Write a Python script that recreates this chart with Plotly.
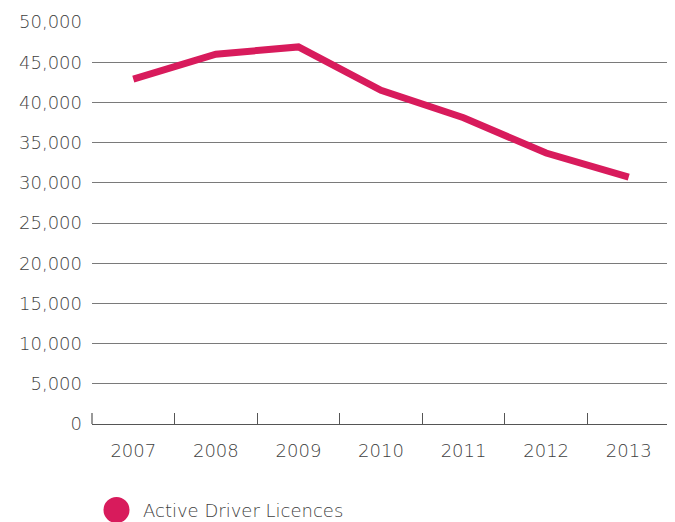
import plotly.graph_objects as go

years = ["2007", "2008", "2009", "2010", "2011", "2012", "2013"]
licences = [42900, 46000, 46900, 41500, 38100, 33700, 30700]
y_ticks = [0, 5000, 10000, 15000, 20000, 25000, 30000, 35000, 40000, 45000, 50000]
y_labels = ["0", "5,000", "10,000", "15,000", "20,000", "25,000", "30,000",
            "35,000", "40,000", "45,000", "50,000"]
series_name = "Active Driver Licences"

color = "#D81B5C"
font = dict(family="DejaVu Sans, sans-serif", size=18, color="#3f3f3f", weight=300)

W, H = 667, 514
L, R, T, B = 84, 5, 14, 98
pw, ph = W - L - R, H - T - B
TICKLEN = 11

fig = go.Figure()
fig.add_trace(go.Scatter(
    x=years, y=licences, mode="lines", name=series_name,
    line=dict(color=color, width=7),
    showlegend=False, hoverinfo="skip",
))

boundaries = [i - 0.5 for i in range(len(years) + 1)]

# end ticks of the category axis (plot edges)
for xe in (0, 1):
    fig.add_shape(type="line", xref="paper", yref="paper",
                  x0=xe, x1=xe, y0=0, y1=TICKLEN / ph,
                  line=dict(color="#555555", width=1.2))

# legend swatch (circle) and label drawn in paper coordinates
cx, cy, r = (116.5 - 8 - L) / pw, (H - B - (510 - 8)) / ph, 13
fig.add_shape(type="circle", xref="paper", yref="paper",
              x0=cx - r / pw, x1=cx + r / pw, y0=cy - r / ph, y1=cy + r / ph,
              fillcolor=color, line=dict(width=0))
fig.add_annotation(xref="paper", yref="paper", x=(141 - 8 - L) / pw, y=cy,
                   xanchor="left", yanchor="middle", text=series_name,
                   showarrow=False, font=font)

fig.update_layout(
    width=W, height=H,
    margin=dict(l=L, r=R, t=T, b=B, autoexpand=False),
    paper_bgcolor="white", plot_bgcolor="white",
    font=font,
    showlegend=False,
    xaxis=dict(
        type="category", range=[-0.5, 6.5], automargin=False,
        showgrid=False, showline=True, linecolor="#555555", linewidth=1.2,
        ticks="", ticklabelstandoff=10,
    ),
    xaxis2=dict(
        overlaying="x", anchor="y", side="bottom", type="linear",
        range=[-0.5, 6.5], tickvals=boundaries, showticklabels=False,
        showgrid=False, zeroline=False, showline=False, automargin=False,
        ticks="inside", ticklen=TICKLEN, tickcolor="#555555", tickwidth=1.2,
    ),
    yaxis=dict(
        range=[0, 50000], tickvals=y_ticks, ticktext=y_labels, automargin=False,
        showgrid=True, gridcolor="#7a7a7a", gridwidth=1.3,
        zeroline=False, showline=False, ticks="",
        ticklabelstandoff=9,
    ),
)
fig.add_trace(go.Scatter(x=[None], y=[None], xaxis="x2", yaxis="y",
                         showlegend=False, hoverinfo="skip"))

fig.write_html("out.html")
